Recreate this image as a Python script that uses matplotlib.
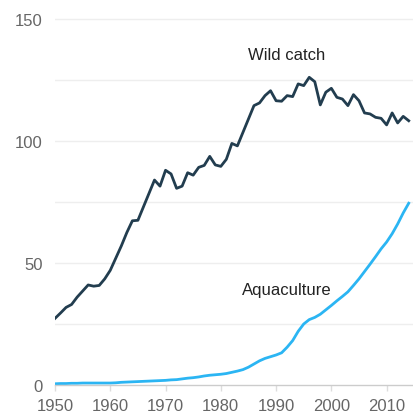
import numpy as np
import matplotlib
matplotlib.use("Agg")
import matplotlib.pyplot as plt

plt.rcParams['font.family'] = ['Liberation Sans', 'DejaVu Sans']

years = list(range(1950, 2015))

# million tonnes
wild_catch = [
    27.3, 29.5, 31.8, 33.0, 36.0, 38.5, 41.0, 40.5, 40.8, 43.5,
    47.0, 52.0, 57.0, 62.5, 67.3, 67.5, 73.0, 78.5, 84.0, 81.5,
    88.0, 86.5, 80.6, 81.5, 87.0, 86.0, 89.2, 90.0, 93.7, 90.2,
    89.6, 92.5, 99.0, 98.0, 103.5, 109.0, 114.5, 115.6, 118.6, 120.6,
    116.5, 116.3, 118.6, 118.2, 123.4, 122.7, 126.1, 124.3, 114.8, 120.0,
    121.6, 117.9, 117.2, 114.5, 119.0, 116.5, 111.5, 111.1, 109.7, 109.3,
    106.6, 111.5, 107.4, 110.1, 108.3,
]
aquaculture = [
    0.5, 0.6, 0.6, 0.7, 0.7, 0.8, 0.8, 0.8, 0.8, 0.8,
    0.8, 0.9, 1.1, 1.2, 1.3, 1.4, 1.5, 1.6, 1.7, 1.8,
    1.9, 2.1, 2.2, 2.5, 2.8, 3.0, 3.3, 3.7, 4.0, 4.2,
    4.4, 4.7, 5.2, 5.7, 6.3, 7.3, 8.6, 9.9, 10.9, 11.6,
    12.3, 13.2, 15.5, 18.2, 22.0, 25.0, 26.8, 27.7, 29.0, 30.8,
    32.6, 34.5, 36.3, 38.2, 40.8, 43.5, 46.5, 49.5, 52.6, 55.8,
    58.6, 62.0, 66.0, 70.5, 74.5,
]

x_ticks = [1950, 1960, 1970, 1980, 1990, 2000, 2010]
y_ticks = [0, 50, 100, 150]
grid_vals = [25, 50, 75, 100, 125, 150]

fig = plt.figure(figsize=(4.13, 4.14), dpi=100)
ax = fig.add_axes([55 / 413, 28 / 414, 358 / 413, 386 / 414])

for g in grid_vals:
    ax.axhline(g, color='#eeeeee', lw=1.0, zorder=0)

ax.plot(years, wild_catch, color='#223d4f', lw=2.0, solid_joinstyle='round')
ax.plot(years, aquaculture, color='#2bb5f3', lw=2.0, solid_joinstyle='round')

ax.text(1991.9, 135.5, 'Wild catch', ha='center', va='center',
        fontsize=12, color='#222222')
ax.text(1992.0, 39, 'Aquaculture', ha='center', va='center',
        fontsize=12, color='#222222')

ax.set_xlim(1950, 1950 + 358 / 5.527)
ax.set_ylim(0, 150 * 386 / 366)

ax.set_xticks(x_ticks)
ax.set_yticks(y_ticks)
for s in ['top', 'right', 'left']:
    ax.spines[s].set_visible(False)
ax.spines['bottom'].set_color('#cccccc')
ax.spines['bottom'].set_linewidth(1.0)
ax.tick_params(axis='x', length=4.5, width=1, color='#dddddd',
               labelsize=12, labelcolor='#666666', pad=5)
ax.tick_params(axis='y', length=0, labelsize=12, labelcolor='#666666', pad=9)

fig.savefig('out.png', dpi=100)
